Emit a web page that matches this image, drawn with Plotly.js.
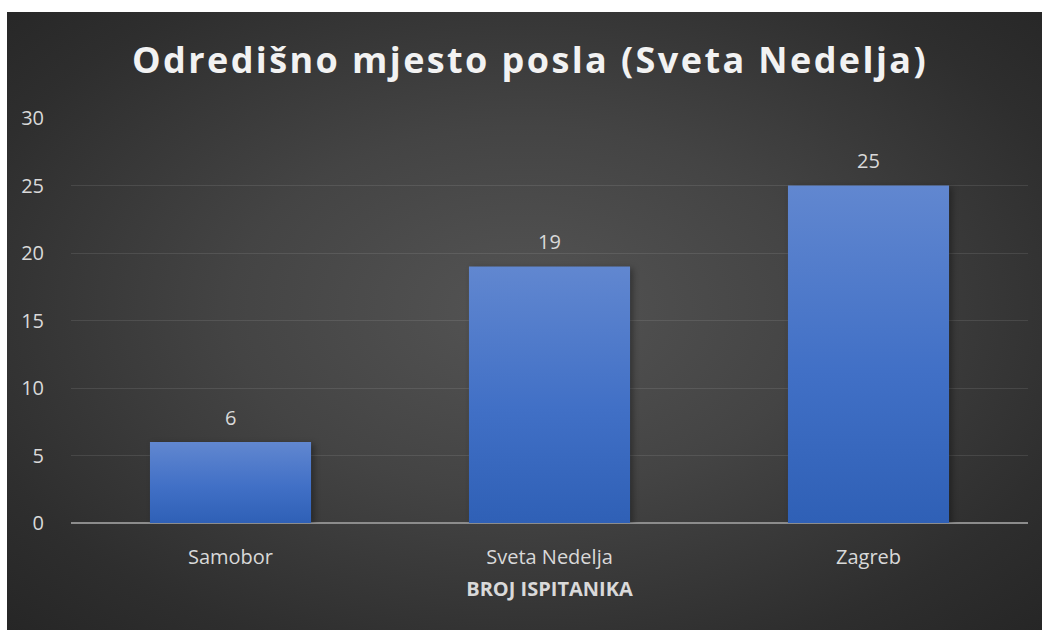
<!DOCTYPE html>
<html>
<head>
<meta charset="utf-8">
<script src="https://cdn.plot.ly/plotly-3.0.1.min.js"></script>
<style>
  html, body { margin: 0; padding: 0; background: #ffffff; }
  #wrap { position: relative; width: 1042px; height: 630px; overflow: hidden; background: #ffffff; }
  #bg { position: absolute; left: 7px; top: 12px; width: 1035px; height: 618px;
        background: radial-gradient(ellipse at 50% 48%, #545454 0%, #444444 40%, #2e2e2e 80%, #262626 100%); }
  #chart { position: absolute; left: 0; top: 0; width: 1042px; height: 630px; }
  .gtitle { letter-spacing: 2.4px; }
</style>
</head>
<body>
<div id="wrap">
  <div id="bg"></div>
  <div id="chart"></div>
</div>
<script>
const categories = ["Samobor", "Sveta Nedelja", "Zagreb"];
const values = [6, 19, 25];
const yTicks = [0, 5, 10, 15, 20, 25, 30];
const titleText = "Odredišno mjesto posla (Sveta Nedelja)";
const xAxisTitle = "BROJ ISPITANIKA";

const FONT = "Open Sans, Lato, sans-serif";
const TXT = "#d9d9d9";

const trace = {
  type: "bar",
  x: categories,
  y: values,
  marker: { color: "#4472c4", line: { width: 0 } },
  hoverinfo: "none"
};

const annotations = categories.map((c, i) => ({
  x: c, y: values[i], xref: "x", yref: "y",
  text: String(values[i]), showarrow: false,
  yshift: 25, font: { family: FONT, size: 20, color: TXT }
}));

const layout = {
  width: 1042, height: 630,
  paper_bgcolor: "rgba(0,0,0,0)",
  plot_bgcolor: "rgba(0,0,0,0)",
  margin: { l: 71, r: 14, t: 118, b: 107 },
  title: {
    text: "<b>" + titleText + "</b>",
    font: { family: FONT, size: 36, color: "#f2f2f2" },
    xref: "container", x: 530 / 1042, xanchor: "center",
    yref: "container", y: 1 - 60 / 630, yanchor: "middle"
  },
  bargap: 0.495,
  showlegend: false,
  xaxis: {
    type: "category",
    showgrid: false, zeroline: false, showline: false,
    ticks: "outside", ticklen: 16, tickcolor: "rgba(0,0,0,0)",
    tickfont: { family: FONT, size: 20, color: TXT },
    title: { text: "<b>" + xAxisTitle + "</b>", standoff: 12,
             font: { family: FONT, size: 20, color: TXT } },
    fixedrange: true
  },
  yaxis: {
    range: [0, 30],
    tickvals: yTicks,
    showgrid: true, gridcolor: "rgba(217,217,217,0.12)", gridwidth: 1,
    zeroline: true, zerolinecolor: "#8c8c8c", zerolinewidth: 2,
    showline: false,
    ticks: "outside", ticklen: 22, tickcolor: "rgba(0,0,0,0)",
    tickfont: { family: FONT, size: 20, color: TXT },
    fixedrange: true
  },
  annotations: annotations
};

Plotly.newPlot("chart", [trace], layout, { displayModeBar: false, staticPlot: true }).then(gd => {
  const svg = gd.querySelector("svg.main-svg");
  const ns = "http://www.w3.org/2000/svg";
  let defs = svg.querySelector("defs");
  if (!defs) { defs = document.createElementNS(ns, "defs"); svg.insertBefore(defs, svg.firstChild); }
  const lg = document.createElementNS(ns, "linearGradient");
  lg.setAttribute("id", "bargrad");
  lg.setAttribute("x1", "0"); lg.setAttribute("y1", "0");
  lg.setAttribute("x2", "0"); lg.setAttribute("y2", "1");
  [["0%", "#6187d0"], ["55%", "#4170c6"], ["100%", "#2f60b6"]].forEach(([o, c]) => {
    const s = document.createElementNS(ns, "stop");
    s.setAttribute("offset", o); s.setAttribute("stop-color", c);
    lg.appendChild(s);
  });
  defs.appendChild(lg);
  gd.querySelectorAll("g.trace.bars g.point path").forEach(p => {
    p.style.fill = "url(#bargrad)";
    p.style.filter = "drop-shadow(3px 2px 3px rgba(0,0,0,0.35))";
  });
});
</script>
</body>
</html>
